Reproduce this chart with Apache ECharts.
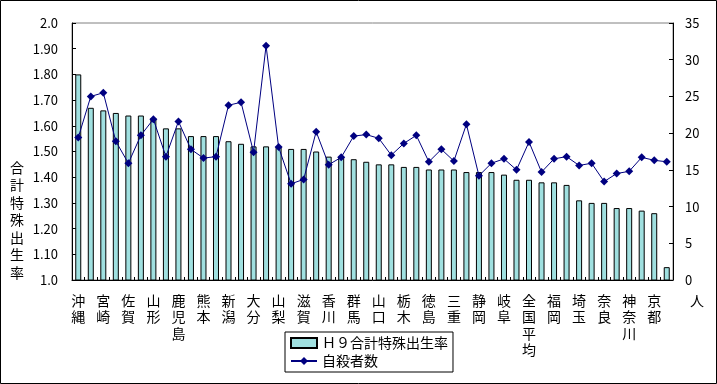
<!DOCTYPE html>
<html>
<head>
<meta charset="utf-8">
<script src="https://cdn.jsdelivr.net/npm/echarts@6/dist/echarts.min.js"></script>
<style>
html,body{margin:0;padding:0;background:#fff;}
#c{width:717px;height:384px;}
</style>
</head>
<body>
<div id="c"></div>
<script>
const categories = ['沖縄','福島','宮崎','島根','佐賀','長崎','山形','鳥取','鹿児島','岩手','熊本','福井','新潟','長野','大分','秋田','山梨','青森','滋賀','愛媛','香川','富山','群馬','石川','山口','高知','栃木','茨城','徳島','岡山','三重','広島','静岡','和歌山','岐阜','愛知','全国平均','兵庫','福岡','宮城','埼玉','千葉','奈良','大阪','神奈川','北海道','京都','東京'];
const tfr = [1.80,1.67,1.66,1.65,1.64,1.64,1.63,1.59,1.59,1.56,1.56,1.56,1.54,1.53,1.52,1.52,1.52,1.51,1.51,1.50,1.48,1.48,1.47,1.46,1.45,1.45,1.44,1.44,1.43,1.43,1.43,1.42,1.42,1.42,1.41,1.39,1.39,1.38,1.38,1.37,1.31,1.30,1.30,1.28,1.28,1.27,1.26,1.05];
const suicides = [19.4,25.0,25.5,18.9,15.9,19.7,21.9,16.8,21.6,17.8,16.6,16.8,23.8,24.2,17.4,31.9,18.1,13.1,13.7,20.2,15.7,16.7,19.6,19.8,19.3,17.0,18.6,19.7,16.1,17.8,16.2,21.2,14.2,15.9,16.5,15.0,18.8,14.7,16.5,16.8,15.6,15.9,13.4,14.5,14.8,16.7,16.3,16.1];
const seriesNames = ['Ｈ９合計特殊出生率','自殺者数'];
const leftTitle = '合計特殊出生率';
const rightUnit = '人';

const FONT = '"Noto Sans CJK JP", "Noto Sans", sans-serif';
const chart = echarts.init(document.getElementById('c'), null, {renderer:'canvas'});
chart.setOption({
  animation: false,
  backgroundColor: '#fff',
  textStyle: {fontFamily: FONT},
  grid: {left: 72, right: 44, top: 23, bottom: 104, show: true, borderColor: '#808080', borderWidth: 1},
  legend: {
    orient: 'vertical', left: 285, top: 332,
    padding: [4, 5, 4, 5], itemGap: 4, itemWidth: 26, itemHeight: 10,
    borderColor: '#000', borderWidth: 1, borderRadius: 0,
    textStyle: {fontFamily: FONT, fontSize: 14, color: '#000', lineHeight: 14},
    data: [
      {name: seriesNames[0], icon: 'rect'},
      {name: seriesNames[1]}
    ]
  },
  xAxis: {
    type: 'category', data: categories, boundaryGap: true,
    axisLine: {lineStyle: {color: '#000', width: 1}},
    axisTick: {show: true, inside: true, length: 3, interval: 0, lineStyle: {color: '#000'}},
    axisLabel: {
      interval: 1, margin: 12, color: '#000', fontSize: 14, lineHeight: 16.5, fontFamily: FONT,
      formatter: v => v.split('').join('\n')
    },
    splitLine: {show: false}
  },
  yAxis: [
    {
      type: 'value', min: 1, max: 2, interval: 0.1, position: 'left',
      axisLine: {show: true, lineStyle: {color: '#000'}},
      axisTick: {show: true, inside: true, length: 4, lineStyle: {color: '#000'}},
      axisLabel: {margin: 14, color: '#000', fontSize: 13, fontFamily: FONT,
        formatter: v => (Math.abs(v-1) < 1e-9 || Math.abs(v-2) < 1e-9) ? v.toFixed(1) : v.toFixed(2)},
      splitLine: {show: false}
    },
    {
      type: 'value', min: 0, max: 35, interval: 5, position: 'right',
      axisLine: {show: true, lineStyle: {color: '#000'}},
      axisTick: {show: true, inside: true, length: 4, lineStyle: {color: '#000'}},
      axisLabel: {margin: 12, color: '#000', fontSize: 13, fontFamily: FONT},
      splitLine: {show: false}
    }
  ],
  series: [
    {
      name: seriesNames[0], type: 'bar', data: tfr, yAxisIndex: 0,
      barWidth: 6,
      itemStyle: {color: '#A0E0E0', borderColor: '#000', borderWidth: 1}
    },
    {
      name: seriesNames[1], type: 'line', data: suicides, yAxisIndex: 1,
      symbol: 'diamond', symbolSize: 8, showSymbol: true,
      lineStyle: {color: '#000080', width: 1},
      itemStyle: {color: '#000080'}
    }
  ],
  graphic: [
    {type: 'rect', silent: true, shape: {x: 0.5, y: 0.5, width: 716, height: 383},
     style: {fill: 'none', stroke: '#000', lineWidth: 1}},
    {type: 'text', x: 17, y: 220, silent: true,
     style: {text: leftTitle.split('').join('\n'), font: '14px ' + FONT, lineHeight: 17.5,
       fill: '#000', align: 'center', verticalAlign: 'middle'}},
    {type: 'text', x: 697, y: 301, silent: true,
     style: {text: rightUnit, font: '14px ' + FONT, fill: '#000', align: 'center', verticalAlign: 'middle'}}
  ]
});
</script>
</body>
</html>
